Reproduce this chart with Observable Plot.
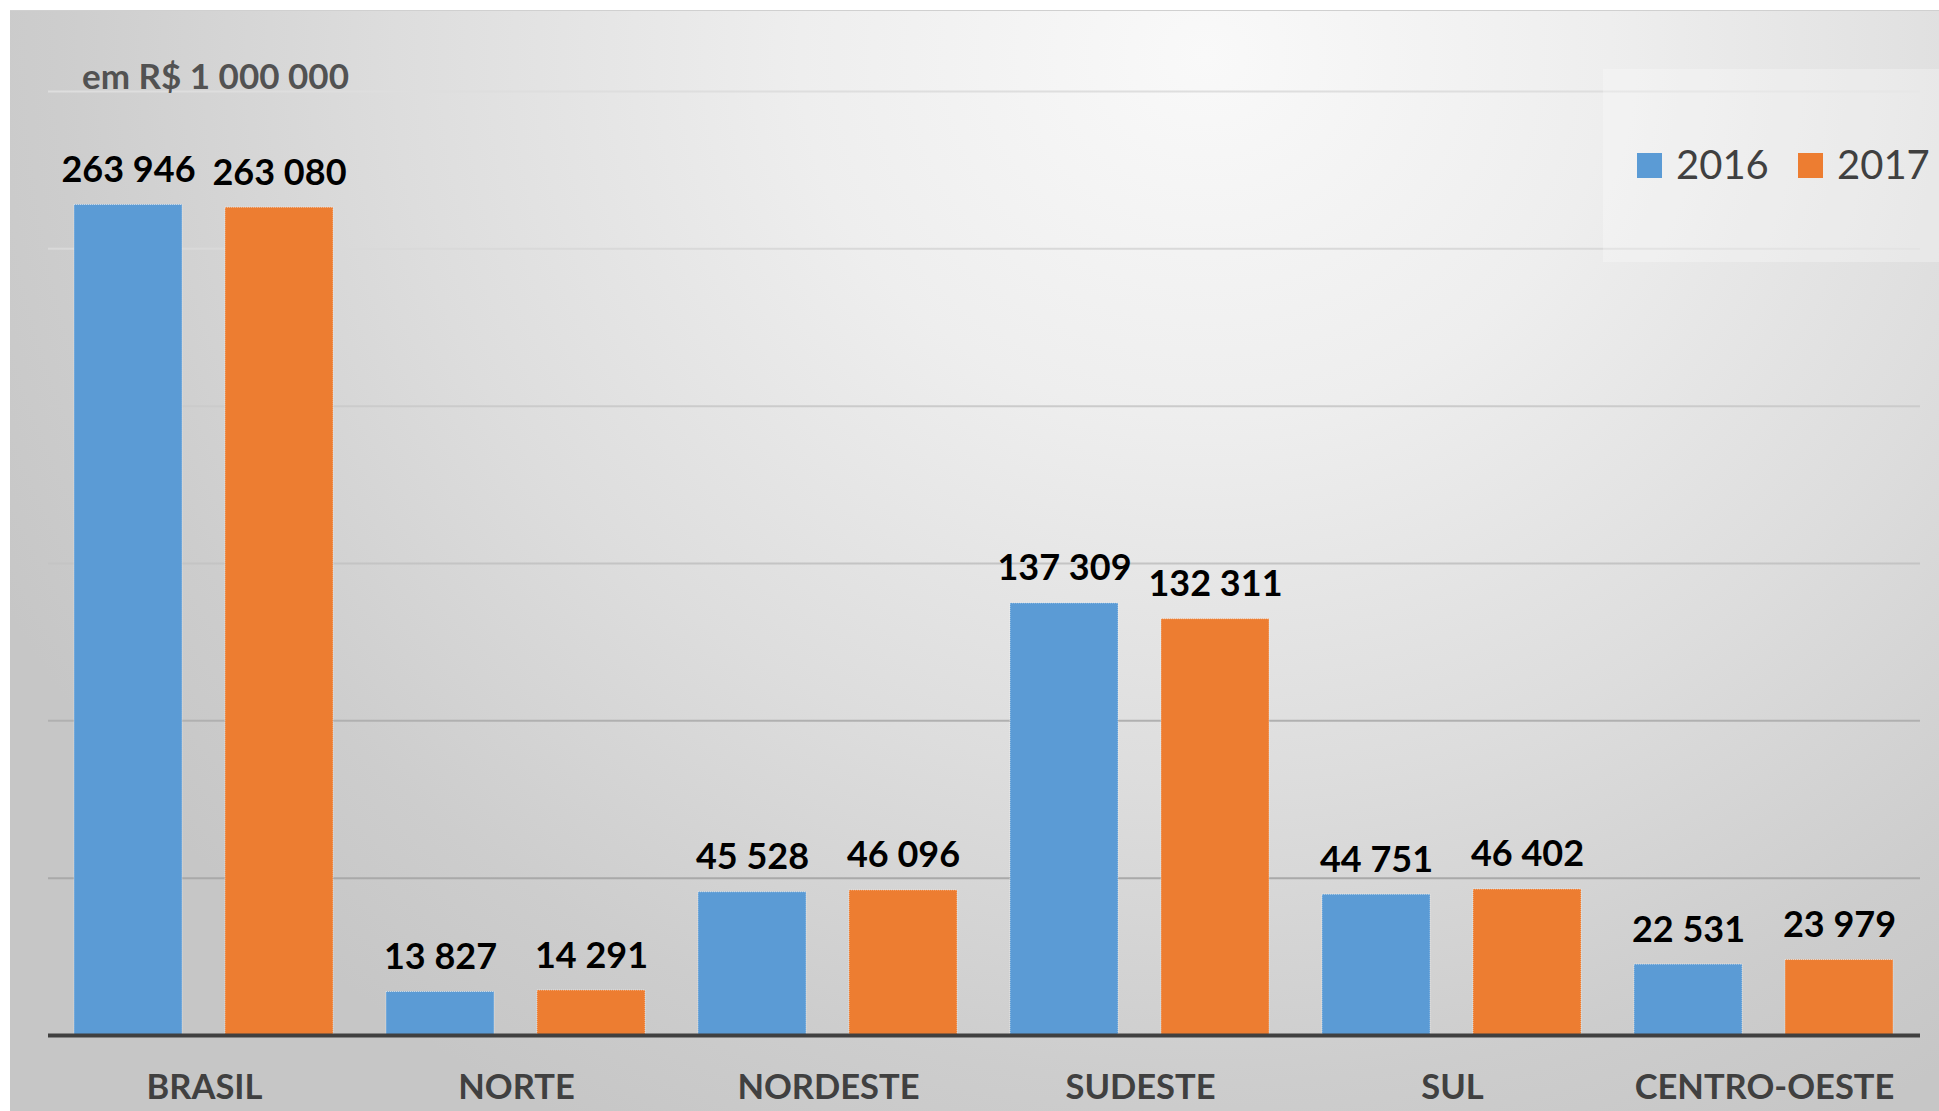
<!DOCTYPE html>
<html>
<head>
<meta charset="utf-8">
<script src="https://cdn.jsdelivr.net/npm/d3@7"></script>
<script src="https://cdn.jsdelivr.net/npm/@observablehq/plot@0.6"></script>
<style>
  html, body { margin: 0; padding: 0; background: #ffffff; }
  #frame {
    position: absolute; left: 10px; top: 10px; width: 1929px; height: 1101px;
    background: radial-gradient(ellipse 70% 110% at 62% 4%, #f9f9f9 0%, #eeeeee 30%, #dddddd 60%, #cdcdcd 85%, #c6c6c6 100%);
    border-top: 1px solid #d0d0d0;
    box-sizing: border-box;
    overflow: hidden;
  }
  #frame svg { position: absolute; left: 0; top: 0; }
</style>
</head>
<body>
<div id="frame"></div>
<script>
// ---- data ----
const regions = ["BRASIL", "NORTE", "NORDESTE", "SUDESTE", "SUL", "CENTRO-OESTE"];
const years = ["2016", "2017"];
const values2016 = [263946, 13827, 45528, 137309, 44751, 22531];
const values2017 = [263080, 14291, 46096, 132311, 46402, 23979];
const gridValues = [50000, 100000, 150000, 200000, 250000, 300000];
const gridColors = ["#a9a9a9", "#b0b0b0", "#c4c4c4", "#cbcbcb", "#d9d9d9", "#dedede"];
const yearColors = ["#5b9bd5", "#ed7d31"];
const unitLabel = "em R$ 1 000 000";

const rows = [];
regions.forEach((r, i) => {
  rows.push({region: r, year: years[0], value: values2016[i]});
  rows.push({region: r, year: years[1], value: values2017[i]});
});
const grid = gridValues.map((v, i) => ({v, c: gridColors[i]}));

const fmt = d3.formatLocale({decimal: ",", thousands: " ", grouping: [3], currency: ["R$", ""]}).format(",d");

const W = 1929, H = 1101;
const font = "Lato, 'Open Sans', sans-serif";

const chart = Plot.plot({
  width: W,
  height: H,
  marginLeft: 36,
  marginRight: 17,
  marginTop: 80,
  marginBottom: 77,
  style: {background: "transparent", fontFamily: font, overflow: "visible"},
  fx: {domain: regions, padding: 0, axis: "bottom", label: null, tickSize: 0, tickPadding: 39},
  x: {domain: years, paddingInner: 0.283, paddingOuter: 0.171, axis: null},
  y: {domain: [0, 300000], axis: null},
  color: {domain: years, range: yearColors},
  marks: [
    Plot.ruleY(grid, {y: "v", stroke: "c", strokeWidth: 2}),
    Plot.barY(rows, {fx: "region", x: "year", y: "value", fill: "year",
      stroke: "white", strokeOpacity: 0.55, strokeWidth: 1, strokeDasharray: "1,1"}),
    Plot.text(rows, {fx: "region", x: "year", y: "value", text: d => fmt(d.value),
      lineAnchor: "bottom", dy: -23, fontSize: 36, fontWeight: "bold", fill: "#000000"}),
    Plot.ruleY([0], {stroke: "#404040", strokeWidth: 4})
  ]
});

// style the facet axis labels
d3.select(chart).selectAll("[aria-label='fx-axis tick label'] text, [aria-label='fx-axis tick label']")
  .attr("font-size", 34.5).attr("font-weight", "bold").attr("fill", "#404040");

// overlay: unit label and legend
const svg = d3.select(chart);
svg.append("text")
  .attr("x", 72).attr("y", 78).attr("text-anchor", "start")
  .attr("font-family", font).attr("font-size", 35).attr("font-weight", "bold")
  .attr("fill", "#525252").text(unitLabel);

const lg = svg.append("g").attr("text-anchor", "start");
lg.append("rect").attr("x", 1593).attr("y", 58).attr("width", 340).attr("height", 193)
  .attr("fill", "#ffffff").attr("fill-opacity", 0.28);
const itemX = [1627, 1788];
years.forEach((y, i) => {
  lg.append("rect").attr("x", itemX[i]).attr("y", 142).attr("width", 25).attr("height", 25)
    .attr("fill", yearColors[i]);
  lg.append("text").attr("x", itemX[i] + 39).attr("y", 168).attr("text-anchor", "start")
    .attr("font-family", font).attr("font-size", 40).attr("fill", "#404040").text(y);
});

document.getElementById("frame").appendChild(chart);
</script>
</body>
</html>
